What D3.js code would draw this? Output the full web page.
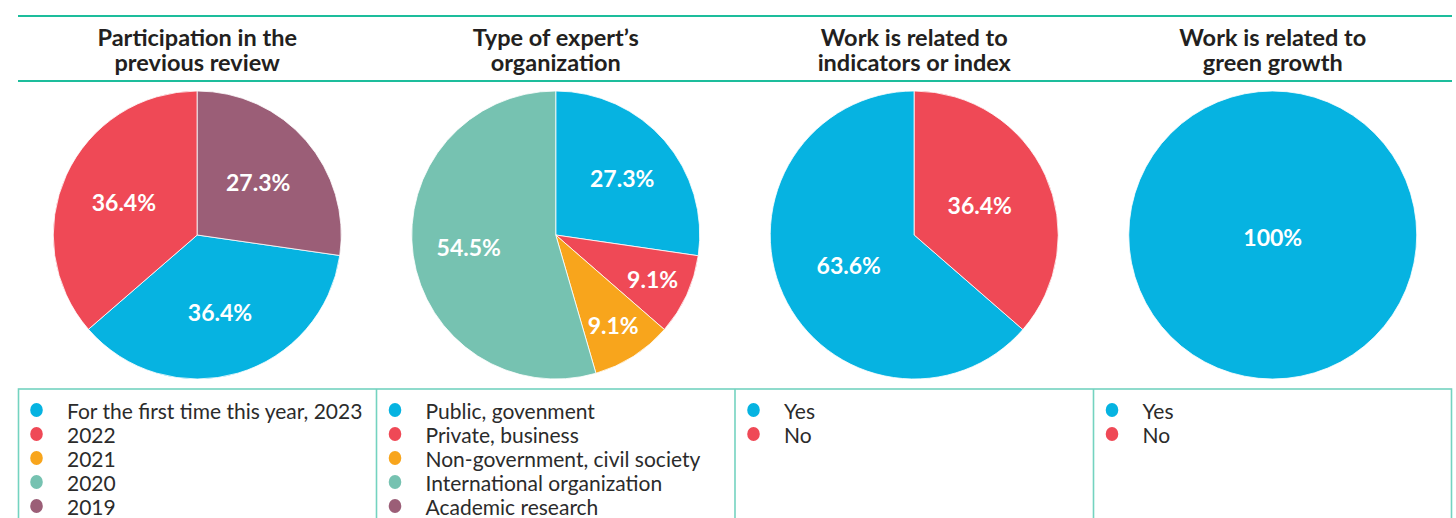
<!DOCTYPE html>
<html>
<head>
<meta charset="utf-8">
<script src="https://cdn.jsdelivr.net/npm/d3@7"></script>
<style>
  html, body { margin: 0; padding: 0; background: #ffffff; }
  svg { display: block; }
</style>
</head>
<body>
<svg id="chart" width="1456" height="518"></svg>
<script>
// ---- Survey data: one small set of arrays per panel ----
const panelTitles = [
  ["Participation in the", "previous review"],
  ["Type of expert\u2019s", "organization"],
  ["Work is related to", "indicators or index"],
  ["Work is related to", "green growth"]
];

const participationCategories = ["For the first time this year, 2023", "2022", "2021", "2020", "2019"];
const participationValues = [36.4, 36.4, 0, 0, 27.3];
// clockwise drawing order, starting at 12 o'clock
const participationOrder = ["2019", "For the first time this year, 2023", "2022", "2021", "2020"];

const organizationCategories = ["Public, govenment", "Private, business", "Non-government, civil society", "International organization", "Academic research"];
const organizationValues = [27.3, 9.1, 9.1, 54.5, 0];
const organizationOrder = ["Public, govenment", "Private, business", "Non-government, civil society", "International organization", "Academic research"];

const indicatorCategories = ["Yes", "No"];
const indicatorValues = [63.6, 36.4];
const indicatorOrder = ["No", "Yes"];

const greenGrowthCategories = ["Yes", "No"];
const greenGrowthValues = [100, 0];
const greenGrowthOrder = ["Yes", "No"];

// ---- Styling ----
const fiveColors = ["#06b3e1", "#ef4956", "#f8a51c", "#76c2b1", "#9b5e77"];
const twoColors = ["#06b3e1", "#ef4956"];
const ruleColor = "#1dbd9c";
const boxColor = "#74d3c0";
const textColor = "#231f20";

const panels = [
  { cats: participationCategories, vals: participationValues, order: participationOrder, colors: fiveColors, labelR: 0.56 },
  { cats: organizationCategories, vals: organizationValues, order: organizationOrder, colors: fiveColors, labelR: 0.61 },
  { cats: indicatorCategories, vals: indicatorValues, order: indicatorOrder, colors: twoColors, labelR: 0.5 },
  { cats: greenGrowthCategories, vals: greenGrowthValues, order: greenGrowthOrder, colors: twoColors, labelR: 0.5 }
];

const svg = d3.select("#chart");
const W = 1456, H = 518;
const left = 18, right = 1452;

const x = d3.scaleBand().domain(d3.range(panels.length)).range([left, right]).paddingInner(0).paddingOuter(0);
const pw = x.bandwidth();

const ruleTop = 16, ruleBottom = 81;
const pieCy = 235, pieR = 144;
const boxTop = 389;

// Header rules
[ruleTop, ruleBottom].forEach(yy => {
  svg.append("line")
    .attr("x1", left).attr("x2", right)
    .attr("y1", yy).attr("y2", yy)
    .attr("stroke", ruleColor).attr("stroke-width", 2.2);
});

// Legend boxes
svg.append("rect")
  .attr("x", left + 0.5).attr("y", boxTop)
  .attr("width", right - left - 1).attr("height", H - boxTop + 10)
  .attr("fill", "none").attr("stroke", boxColor).attr("stroke-width", 1.6);
for (let i = 1; i < panels.length; i++) {
  svg.append("line")
    .attr("x1", x(i)).attr("x2", x(i))
    .attr("y1", boxTop).attr("y2", H)
    .attr("stroke", boxColor).attr("stroke-width", 1.6);
}

const arc = d3.arc().innerRadius(0).outerRadius(pieR);

panels.forEach((p, i) => {
  const cx = x(i) + pw / 2;
  const color = d3.scaleOrdinal().domain(p.cats).range(p.colors);
  const rows = p.cats.map((c, k) => ({ cat: c, value: p.vals[k] }));

  // Title, two lines
  panelTitles[i].forEach((line, k) => {
    svg.append("text")
      .attr("x", cx).attr("y", 46 + k * 25)
      .attr("text-anchor", "middle")
      .attr("font-family", "Lato, 'Open Sans', sans-serif")
      .attr("font-weight", 700)
      .attr("font-size", 23.5)
      .attr("fill", textColor)
      .text(line);
  });

  // Pie
  const pie = d3.pie()
    .value(d => d.value)
    .sort((a, b) => p.order.indexOf(a.cat) - p.order.indexOf(b.cat));
  const arcs = pie(rows).filter(d => d.data.value > 0);

  const g = svg.append("g").attr("transform", `translate(${cx},${pieCy})`);
  g.selectAll("path")
    .data(arcs)
    .join("path")
    .attr("d", arc)
    .attr("fill", d => color(d.data.cat))
    .attr("stroke", "#ffffff")
    .attr("stroke-width", 0.8);

  g.selectAll("text.val")
    .data(arcs)
    .join("text")
    .attr("class", "val")
    .attr("transform", d => {
      const span = d.endAngle - d.startAngle;
      if (span >= 2 * Math.PI - 1e-6) return "translate(0,2)";
      const rr = pieR * (span < 0.7 ? p.labelR + 0.13 : p.labelR);
      const la = d3.arc().innerRadius(rr).outerRadius(rr);
      const [lx, ly] = la.centroid(d);
      return `translate(${lx},${ly})`;
    })
    .attr("text-anchor", "middle")
    .attr("dominant-baseline", "central")
    .attr("font-family", "Lato, 'Open Sans', sans-serif")
    .attr("font-weight", 700)
    .attr("font-size", 23)
    .attr("fill", "#ffffff")
    .text(d => (d.data.value === 100 ? "100" : d3.format(".1f")(d.data.value)) + "%");

  // Legend
  const y = d3.scalePoint().domain(p.cats).range([410, 410 + 24 * (p.cats.length - 1)]);
  const lg = svg.append("g");
  const item = lg.selectAll("g")
    .data(p.cats)
    .join("g")
    .attr("transform", d => `translate(${x(i)},${y(d)})`);
  item.append("ellipse")
    .attr("cx", 18.5).attr("cy", 0)
    .attr("rx", 6.3).attr("ry", 7)
    .attr("fill", d => color(d));
  item.append("text")
    .attr("x", 49).attr("y", 0)
    .attr("dominant-baseline", "central")
    .attr("font-family", "Lato, 'Open Sans', sans-serif")
    .attr("font-size", 21)
    .attr("fill", "#2b2b2b")
    .text(d => d);
});
</script>
</body>
</html>
